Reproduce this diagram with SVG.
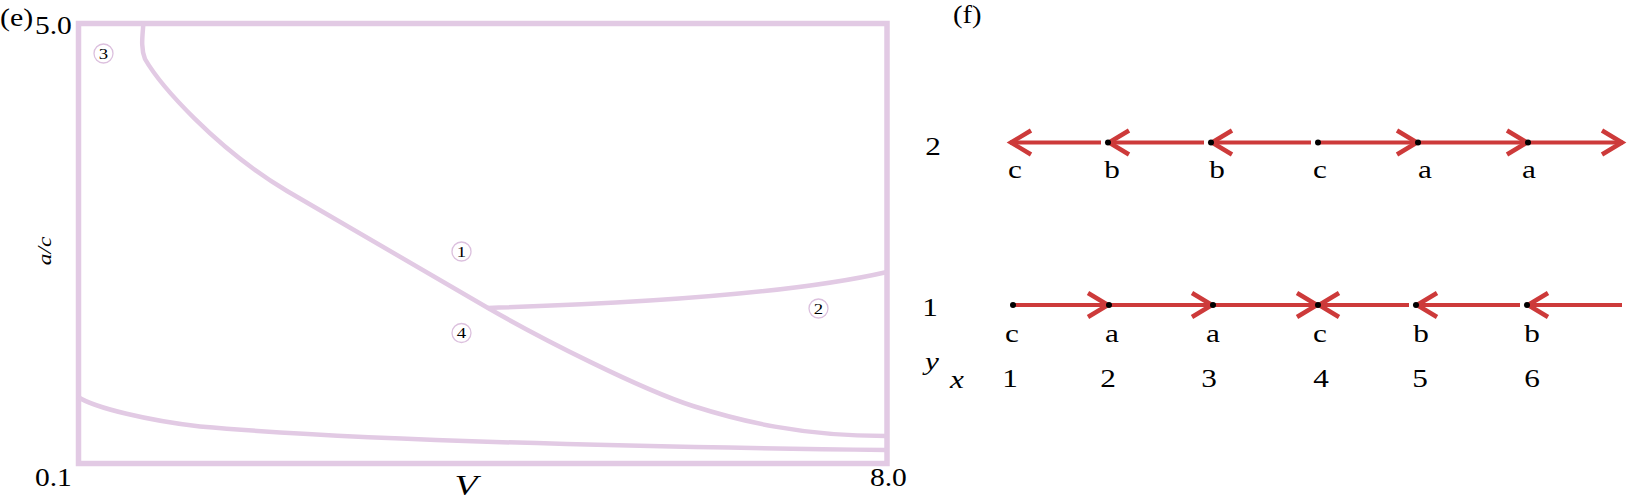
<svg xmlns="http://www.w3.org/2000/svg" width="1627" height="498" viewBox="0 0 1627 498">
<style>
.t{font-family:"Liberation Serif","Times New Roman",serif;font-size:25px;fill:#000}
.te{font-size:26px}
.it{font-style:italic}
.frame{fill:none;stroke:#e2cae4;stroke-width:5.5}
.cv{fill:none;stroke:#e2cae4;stroke-width:4.5;stroke-linejoin:round;stroke-linecap:butt}
.rc{fill:#fff;stroke:#dcc0de;stroke-width:1.3}
.rn{font-family:"Liberation Serif","Times New Roman",serif;font-size:15px;fill:#000}
.ar{stroke:#cd3a3a;stroke-width:4;fill:none}
.dot{fill:#000}
</style>
<defs>
<marker id="chev" markerUnits="userSpaceOnUse" orient="auto" markerWidth="1" markerHeight="1" refX="0" refY="0" style="overflow:visible">
<path d="M-21,-12 L-1,0 L-21,12" fill="none" stroke="#cd3a3a" stroke-width="4.5"/>
</marker>
</defs>
<rect width="1627" height="498" fill="#fff"/>

<g id="panel-e">
<text class="t te" transform="translate(0,26) scale(1.15,1)">(e)</text>
<text class="t" transform="translate(35,33.5) scale(1.18,1)">5.0</text>
<text class="t" transform="translate(35,486) scale(1.18,1)">0.1</text>
<text class="t" transform="translate(870,486) scale(1.18,1)">8.0</text>
<text class="t it" style="font-size:29px" text-anchor="middle" transform="translate(466,495) scale(1.3,1)">V</text>
<text class="t it" style="font-size:18px" text-anchor="middle" transform="translate(51,251) rotate(-90) scale(1.3,1)">a/c</text>
<rect class="frame" x="78.5" y="23.5" width="808.5" height="440"/>
<path id="curve-a" class="cv" d="M143.5,22 C142.5,36 140.5,48 145,59 C160,85 215,148 287,191 L488,308 C540,338 640,389 693,406 C740,421 800,436 886,436"/>
<path id="curve-b" class="cv" d="M488,308 C650,303 800,292 887,272"/>
<path id="curve-c" class="cv" d="M78,397 C95,408 150,421 200,426.5 C330,438 560,446 886,450"/>
<g id="region-3"><circle class="rc" cx="103.5" cy="53.5" r="9.5"/><text class="rn" text-anchor="middle" transform="translate(103.5,58.5) scale(1.25,1)">3</text></g>
<g id="region-1"><circle class="rc" cx="461.5" cy="251.5" r="9.5"/><text class="rn" text-anchor="middle" transform="translate(461.5,256.5) scale(1.25,1)">1</text></g>
<g id="region-4"><circle class="rc" cx="461.5" cy="333" r="9.5"/><text class="rn" text-anchor="middle" transform="translate(461.5,338) scale(1.25,1)">4</text></g>
<g id="region-2"><circle class="rc" cx="818.5" cy="308.5" r="9.5"/><text class="rn" text-anchor="middle" transform="translate(818.5,313.5) scale(1.25,1)">2</text></g>
</g>

<g id="panel-f">
<text class="t te" transform="translate(953,23) scale(1.1,1)">(f)</text>
<text class="t" text-anchor="middle" transform="translate(933,155) scale(1.25,1)">2</text>
<text class="t" text-anchor="middle" transform="translate(930,316) scale(1.25,1)">1</text>
<text class="t it" text-anchor="middle" transform="translate(932,370) scale(1.25,1)">y</text>
<text class="t it" text-anchor="middle" transform="translate(957,388) scale(1.25,1)">x</text>
<g id="x-axis">
<text class="t" text-anchor="middle" transform="translate(1010,387) scale(1.25,1)">1</text>
<text class="t" text-anchor="middle" transform="translate(1108,387) scale(1.25,1)">2</text>
<text class="t" text-anchor="middle" transform="translate(1209,387) scale(1.25,1)">3</text>
<text class="t" text-anchor="middle" transform="translate(1321,387) scale(1.25,1)">4</text>
<text class="t" text-anchor="middle" transform="translate(1420,387) scale(1.25,1)">5</text>
<text class="t" text-anchor="middle" transform="translate(1532,387) scale(1.25,1)">6</text>
</g>

<g id="connectors">
<line class="ar" x1="1101" y1="142.5" x2="1010" y2="142.5" marker-end="url(#chev)"/>
<line class="ar" x1="1204" y1="142.5" x2="1108" y2="142.5" marker-end="url(#chev)"/>
<line class="ar" x1="1311" y1="142.5" x2="1211" y2="142.5" marker-end="url(#chev)"/>
<line class="ar" x1="1318" y1="142.5" x2="1418" y2="142.5" marker-end="url(#chev)"/>
<line class="ar" x1="1418" y1="142.5" x2="1528" y2="142.5" marker-end="url(#chev)"/>
<line class="ar" x1="1528" y1="142.5" x2="1623" y2="142.5" marker-end="url(#chev)"/>
<line class="ar" x1="1013" y1="305" x2="1109" y2="305" marker-end="url(#chev)"/>
<line class="ar" x1="1109" y1="305" x2="1213" y2="305" marker-end="url(#chev)"/>
<line class="ar" x1="1213" y1="305" x2="1318" y2="305" marker-end="url(#chev)"/>
<line class="ar" x1="1409" y1="305" x2="1318" y2="305" marker-end="url(#chev)"/>
<line class="ar" x1="1520" y1="305" x2="1416" y2="305" marker-end="url(#chev)"/>
<line class="ar" x1="1622" y1="305" x2="1527" y2="305" marker-end="url(#chev)"/>
</g>

<g id="row2-site1"><text class="t" text-anchor="middle" transform="translate(1015,178) scale(1.25,1)">c</text></g>
<g id="row2-site2"><circle class="dot" cx="1108" cy="142.5" r="3"/><text class="t" text-anchor="middle" transform="translate(1112,178) scale(1.25,1)">b</text></g>
<g id="row2-site3"><circle class="dot" cx="1211" cy="142.5" r="3"/><text class="t" text-anchor="middle" transform="translate(1217,178) scale(1.25,1)">b</text></g>
<g id="row2-site4"><circle class="dot" cx="1318" cy="142.5" r="3"/><text class="t" text-anchor="middle" transform="translate(1320,178) scale(1.25,1)">c</text></g>
<g id="row2-site5"><circle class="dot" cx="1418" cy="142.5" r="3"/><text class="t" text-anchor="middle" transform="translate(1425,178) scale(1.25,1)">a</text></g>
<g id="row2-site6"><circle class="dot" cx="1528" cy="142.5" r="3"/><text class="t" text-anchor="middle" transform="translate(1529,178) scale(1.25,1)">a</text></g>

<g id="row1-site1"><circle class="dot" cx="1013" cy="305" r="3"/><text class="t" text-anchor="middle" transform="translate(1012,342) scale(1.25,1)">c</text></g>
<g id="row1-site2"><circle class="dot" cx="1109" cy="305" r="3"/><text class="t" text-anchor="middle" transform="translate(1112,342) scale(1.25,1)">a</text></g>
<g id="row1-site3"><circle class="dot" cx="1213" cy="305" r="3"/><text class="t" text-anchor="middle" transform="translate(1213,342) scale(1.25,1)">a</text></g>
<g id="row1-site4"><circle class="dot" cx="1318" cy="305" r="3"/><text class="t" text-anchor="middle" transform="translate(1320,342) scale(1.25,1)">c</text></g>
<g id="row1-site5"><circle class="dot" cx="1416" cy="305" r="3"/><text class="t" text-anchor="middle" transform="translate(1421,342) scale(1.25,1)">b</text></g>
<g id="row1-site6"><circle class="dot" cx="1527" cy="305" r="3"/><text class="t" text-anchor="middle" transform="translate(1532,342) scale(1.25,1)">b</text></g>
</g>
</svg>
